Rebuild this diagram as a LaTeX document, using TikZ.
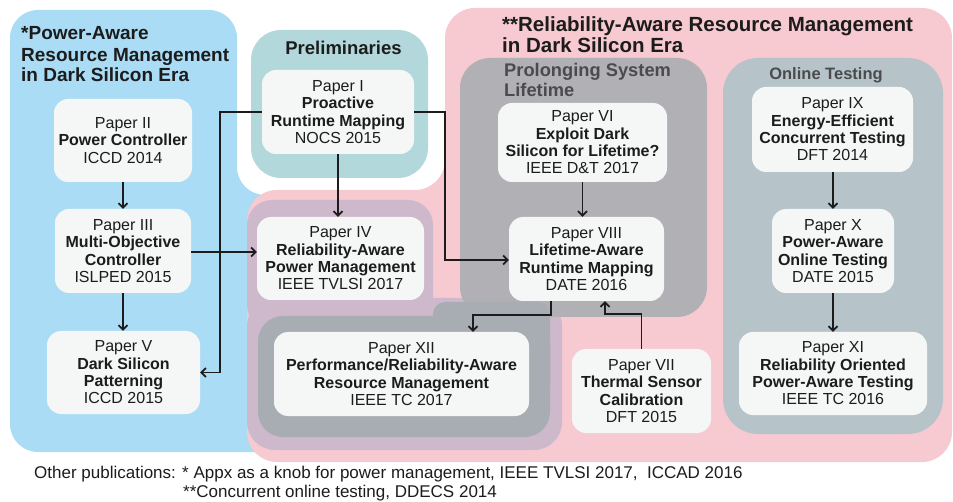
\documentclass[tikz,border=0pt]{standalone}
\usepackage{fontspec}
\setmainfont{Liberation Sans}
\usetikzlibrary{arrows.meta}

\definecolor{blueC}{HTML}{ABDCF5}
\definecolor{pinkC}{HTML}{F7C9D0}
\definecolor{tealC}{HTML}{B3D8DC}
\definecolor{mauveC}{HTML}{CDB9CB}
\definecolor{lifeC}{HTML}{B1B0B4}
\definecolor{twelveC}{HTML}{A8ADB4}
\definecolor{testC}{HTML}{B6C4CA}
\definecolor{boxC}{HTML}{F5F7F6}
\definecolor{inkC}{HTML}{1C1C1C}
\definecolor{subC}{HTML}{4B4B4D}

\tikzset{
  paper/.style={fill=boxC, rounded corners=14pt, align=center, inner sep=0pt,
    text=inkC, font=\fontsize{16}{17.3}\selectfont},
  arr/.style={draw=inkC, line width=1.7pt,
    -{Straight Barb[length=4.5pt,width=9pt]}},
  head/.style={anchor=base west, inner sep=0pt, text=inkC},
  note/.style={anchor=base west, inner sep=0pt, text=inkC,
    font=\fontsize{17}{19}\selectfont},
}

\begin{document}
\begin{tikzpicture}[x=1pt,y=-1pt]
\useasboundingbox (0,0) rectangle (953,502);
\fill[white] (0,0) rectangle (953,502);

% power-aware group (blue)
\fill[blueC, rounded corners=28pt]
  (100,452) -- (10,452) -- (10,10) -- (237,10) -- (237,195)
  -- (320,195) -- (320,452) -- cycle;

% reliability-aware group (pink)
\fill[pinkC, rounded corners=30pt]
  (400,462) -- (247,462) -- (247,190) -- (445,190) -- (445,8)
  -- (952,8) -- (952,462) -- cycle;

% preliminaries group
\fill[tealC, rounded corners=30pt] (251,30) rectangle (428,178);

% power management group around Papers IV and XII
\fill[mauveC, rounded corners=25pt] (247,200) rectangle (433,330);
\fill[mauveC, rounded corners=28pt] (247,298) rectangle (562,450);

% prolonging system lifetime group
\fill[lifeC, rounded corners=30pt] (460,58) rectangle (707,317);

% inner group of Paper XII
\fill[twelveC, rounded corners=12pt] (433,302) rectangle (550,400);
\fill[twelveC, rounded corners=25pt] (258,316) rectangle (550,437);

% online testing group
\fill[testC, rounded corners=35pt] (723,58) rectangle (943,434);

% group titles
\node[head, font=\fontsize{19}{21}\selectfont\bfseries] (tpa1) at (21,40) {*Power-Aware};
\node[head, font=\fontsize{19}{21}\selectfont\bfseries] (tpa2) at (21,61.5) {Resource Management};
\node[head, font=\fontsize{19}{21}\selectfont\bfseries] (tpa3) at (21,82) {in Dark Silicon Era};

\node[head, font=\fontsize{20.5}{22}\selectfont\bfseries] (tra1) at (502,32) {**Reliability-Aware Resource Management};
\node[head, font=\fontsize{20.5}{22}\selectfont\bfseries] (tra2) at (502,53) {in Dark Silicon Era};

\node[head, anchor=base, font=\fontsize{18.5}{20}\selectfont\bfseries] (tpre) at (343.5,55) {Preliminaries};

\node[head, text=subC, font=\fontsize{18.3}{20}\selectfont\bfseries] (tpl1) at (504,77) {Prolonging System};
\node[head, text=subC, font=\fontsize{18.3}{20}\selectfont\bfseries] (tpl2) at (504,97) {Lifetime};

\node[head, anchor=base, text=subC, font=\fontsize{16.5}{18}\selectfont\bfseries] (tot) at (826,80) {Online Testing};

% papers
\node[paper, minimum width=152pt, minimum height=84pt] (p1) at (338,112)
  {Paper I\\\textbf{Proactive}\\\textbf{Runtime Mapping}\\NOCS 2015};
\node[paper, minimum width=138pt, minimum height=83pt] (p2) at (123,140.5)
  {Paper II\\\textbf{Power Controller}\\ICCD 2014};
\node[paper, minimum width=136pt, minimum height=84pt] (p3) at (123,251)
  {Paper III\\\textbf{Multi-Objective}\\\textbf{Controller}\\ISLPED 2015};
\node[paper, minimum width=167pt, minimum height=83pt] (p4) at (340.5,258.5)
  {Paper IV\\\textbf{Reliability-Aware}\\\textbf{Power Management}\\IEEE TVLSI 2017};
\node[paper, minimum width=153pt, minimum height=83pt] (p5) at (123.5,372.5)
  {Paper V\\\textbf{Dark Silicon}\\\textbf{Patterning}\\ICCD 2015};
\node[paper, minimum width=169pt, minimum height=79pt] (p6) at (582.5,142.5)
  {Paper VI\\\textbf{Exploit Dark}\\\textbf{Silicon for Lifetime?}\\IEEE D\&T 2017};
\node[paper, minimum width=139pt, minimum height=84pt] (p7) at (641.5,391)
  {Paper VII\\\textbf{Thermal Sensor}\\\textbf{Calibration}\\DFT 2015};
\node[paper, minimum width=155pt, minimum height=84pt] (p8) at (586.5,259)
  {Paper VIII\\\textbf{Lifetime-Aware}\\\textbf{Runtime Mapping}\\DATE 2016};
\node[paper, minimum width=161pt, minimum height=85pt] (p9) at (832.5,129.5)
  {Paper IX\\\textbf{Energy-Efficient}\\\textbf{Concurrent Testing}\\DFT 2014};
\node[paper, minimum width=122pt, minimum height=84pt] (p10) at (833,251)
  {Paper X\\\textbf{Power-Aware}\\\textbf{Online Testing}\\DATE 2015};
\node[paper, minimum width=188pt, minimum height=83pt] (p11) at (833,373.5)
  {Paper XI\\\textbf{Reliability Oriented}\\\textbf{Power-Aware Testing}\\IEEE TC 2016};
\node[paper, minimum width=255pt, minimum height=84pt] (p12) at (401.5,374)
  {Paper XII\\\textbf{Performance/Reliability-Aware}\\\textbf{Resource Management}\\IEEE TC 2017};

% bend points of the connectors
\coordinate (jl) at (220,112);
\coordinate (jr) at (445,260);
\coordinate (jd1) at (551,315);
\coordinate (jd2) at (473,315);
\coordinate (ju1) at (641.5,314);
\coordinate (ju2) at (605,314);

% connectors
\draw[arr] (p2.south) -- (p3.north);
\draw[arr] (p3.south) -- (p3.south |- p5.north);
\draw[arr] (p1.west) -- (jl) |- (p5.east);
\draw[arr] (p1.south) -- (p1.south |- p4.north);
\draw[arr] (p3.east |- 0,252) -- (p4.west |- 0,252);
\draw[arr] (p1.east) -| (jr) -- (jr -| p8.west);
\draw[arr] (p6.south) -- (p6.south |- p8.north);
\draw[arr] (jd1 |- p8.south) -- (jd1) -- (jd2) -- (jd2 |- p12.north);
\draw[arr] (p7.north) -- (ju1) -- (ju2) -- (ju2 |- p8.south);
\draw[arr] (p9.south -| p10.north) -- (p10.north);
\draw[arr] (p10.south) -- (p11.north);

% other publications
\node[note] (n1) at (34,478) {Other publications: * Appx as a knob for power management, IEEE TVLSI 2017,\ \ ICCAD 2016};
\node[note] (n2) at (183,497) {**Concurrent online testing, DDECS 2014};
\end{tikzpicture}
\end{document}
